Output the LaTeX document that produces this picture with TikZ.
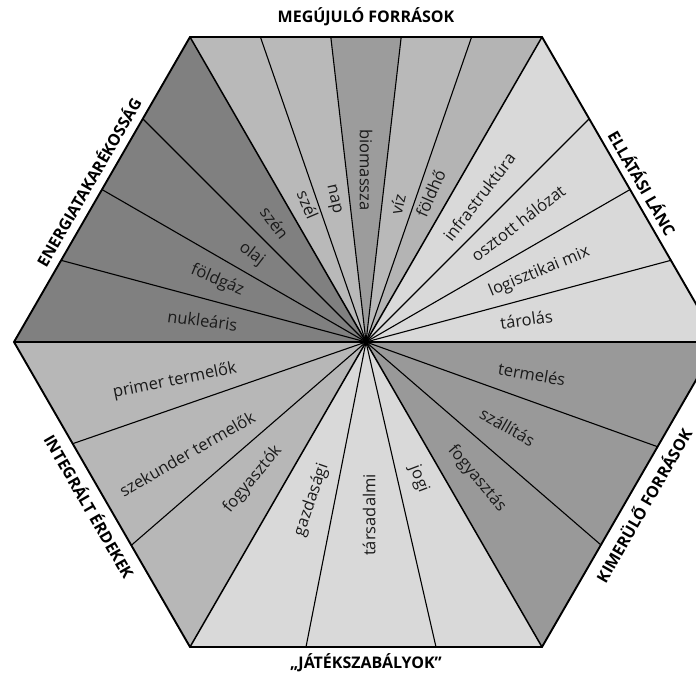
\documentclass[tikz,border=0pt]{standalone}
\usepackage{fontspec}
\setmainfont{Open Sans}
\usetikzlibrary{calc}
\definecolor{cdark}{HTML}{808080}
\definecolor{ctop}{HTML}{B9B9B9}
\definecolor{ctopmid}{HTML}{9C9C9C}
\definecolor{ctopfive}{HTML}{B4B4B4}
\definecolor{clight}{HTML}{D9D9D9}
\definecolor{clr}{HTML}{999999}
\definecolor{cll}{HTML}{B7B7B7}
\definecolor{ctext}{HTML}{1A1A1A}
\tikzset{
  inner/.style={draw=black, line width=1.1pt},
  bound/.style={draw=black, line width=1.5pt},
  hexline/.style={draw=black, line width=1.9pt, line join=miter},
  lbl/.style={font=\fontsize{16.5}{18}\selectfont, text=ctext, inner sep=0pt},
  ttl/.style={font=\fontsize{16}{18}\selectfont\bfseries, text=black, inner sep=0pt}
}
\begin{document}
\begin{tikzpicture}[x=1pt,y=1pt]
\clip (0,0) rectangle (696,675);
\useasboundingbox (0,0) rectangle (696,675);
% key points
\coordinate (C) at (366,333);
\coordinate (L) at (14,333);
\coordinate (TL) at (190,638);
\coordinate (TR) at (542,638);
\coordinate (R) at (718,333);
\coordinate (BR) at (542,28);
\coordinate (BL) at (190,28);
\coordinate (P1) at (61.0,414.7);
\coordinate (P2) at (101.9,485.5);
\coordinate (P3) at (142.7,556.3);
\coordinate (T1) at (260.4,638);
\coordinate (T2) at (330.8,638);
\coordinate (T3) at (401.2,638);
\coordinate (T4) at (471.6,638);
\coordinate (U1) at (589.3,556.3);
\coordinate (U2) at (630.1,485.5);
\coordinate (U3) at (671.0,414.7);
\coordinate (V1) at (657.5,228.3);
\coordinate (V2) at (601,130);
\coordinate (B1) at (436,28);
\coordinate (B2) at (306,28);
\coordinate (W1) at (131.3,129.7);
\coordinate (W2) at (72.7,231.3);
% fills
\fill[cdark] (C) -- (L) -- (TL) -- cycle;
\fill[ctop] (C) -- (TL) -- (T2) -- cycle;
\fill[ctopmid] (C) -- (T2) -- (T3) -- cycle;
\fill[ctop] (C) -- (T3) -- (T4) -- cycle;
\fill[ctopfive] (C) -- (T4) -- (TR) -- cycle;
\fill[clight] (C) -- (TR) -- (R) -- cycle;
\fill[clr] (C) -- (R) -- (BR) -- cycle;
\fill[clight] (C) -- (BR) -- (BL) -- cycle;
\fill[cll] (C) -- (BL) -- (L) -- cycle;
% inner lines
\foreach \p in {P1,P2,P3,T1,T2,T3,T4,U1,U2,U3,V1,V2,B1,B2,W1,W2}
  \draw[inner] (C) -- (\p);
% sector boundaries
\foreach \p in {L,TL,TR,R,BR,BL}
  \draw[bound] (C) -- (\p);
% hexagon
\draw[hexline] (L) -- (TL) -- (TR) -- (R) -- (BR) -- (BL) -- cycle;
% labels
\node[lbl, rotate=-7.5] (nuk) at ($(C)+(172.5:165pt)$) {nukleáris};
\node[lbl, rotate=-22.5] (fgaz) at ($(C)+(157.5:161pt)$) {földgáz};
\node[lbl, rotate=-37.5] (olaj) at ($(C)+(142.5:144pt)$) {olaj};
\node[lbl, rotate=-52.5] (szen) at ($(C)+(127.5:150pt)$) {szén};
\node[lbl, rotate=-67] (szel) at ($(C)+(113:149pt)$) {szél};
\node[lbl, rotate=-77] (nap) at ($(C)+(103:146pt)$) {nap};
\node[lbl, rotate=-90] (bio) at ($(C)+(90:172pt)$) {biomassza};
\node[lbl, rotate=77] (viz) at ($(C)+(77:141pt)$) {víz};
\node[lbl, rotate=66.5] (fho) at ($(C)+(66.5:162pt)$) {földhő};
\node[lbl, rotate=52.5] (infra) at ($(C)+(52:184pt)$) {infrastruktúra};
\node[lbl, rotate=37.5] (oszt) at ($(C)+(38:193pt)$) {osztott hálózat};
\node[lbl, rotate=22.5] (logi) at ($(C)+(22:187pt)$) {logisztikai mix};
\node[lbl, rotate=7.5] (tar) at ($(C)+(8:162pt)$) {tárolás};
\node[lbl, rotate=-10] (term) at ($(C)+(-11:169pt)$) {termelés};
\node[lbl, rotate=-30] (szall) at ($(C)+(-31:165pt)$) {szállítás};
\node[lbl, rotate=-50] (fogyas) at ($(C)+(-51:176pt)$) {fogyasztás};
\node[lbl, rotate=-69] (jogi) at ($(C)+(-69:147pt)$) {jogi};
\node[lbl, rotate=90] (tars) at ($(C)+(-89:173pt)$) {társadalmi};
\node[lbl, rotate=71] (gazd) at ($(C)+(-109:167pt)$) {gazdasági};
\node[lbl, rotate=50.5] (fogyok) at ($(C)+(230.5:178pt)$) {fogyasztók};
\node[lbl, rotate=30] (szek) at ($(C)+(212:211pt)$) {szekunder termelők};
\node[lbl, rotate=11.5] (prim) at ($(C)+(191.5:195pt)$) {primer termelők};
% titles
\node[ttl] (tMeg) at (366,658) {MEGÚJULÓ FORRÁSOK};
\node[ttl, rotate=60] (tEn) at (88,493) {ENERGIATAKARÉKOSSÁG};
\node[ttl, rotate=-60] (tEll) at (643,492) {ELLÁTÁSI LÁNC};
\node[ttl, rotate=60] (tKim) at (643,170) {KIMERÜLŐ FORRÁSOK};
\node[ttl] (tJat) at (366,12) {„JÁTÉKSZABÁLYOK”};
\node[ttl, rotate=-60] (tInt) at (90,169) {INTEGRÁLT ÉRDEKEK};
\end{tikzpicture}
\end{document}
